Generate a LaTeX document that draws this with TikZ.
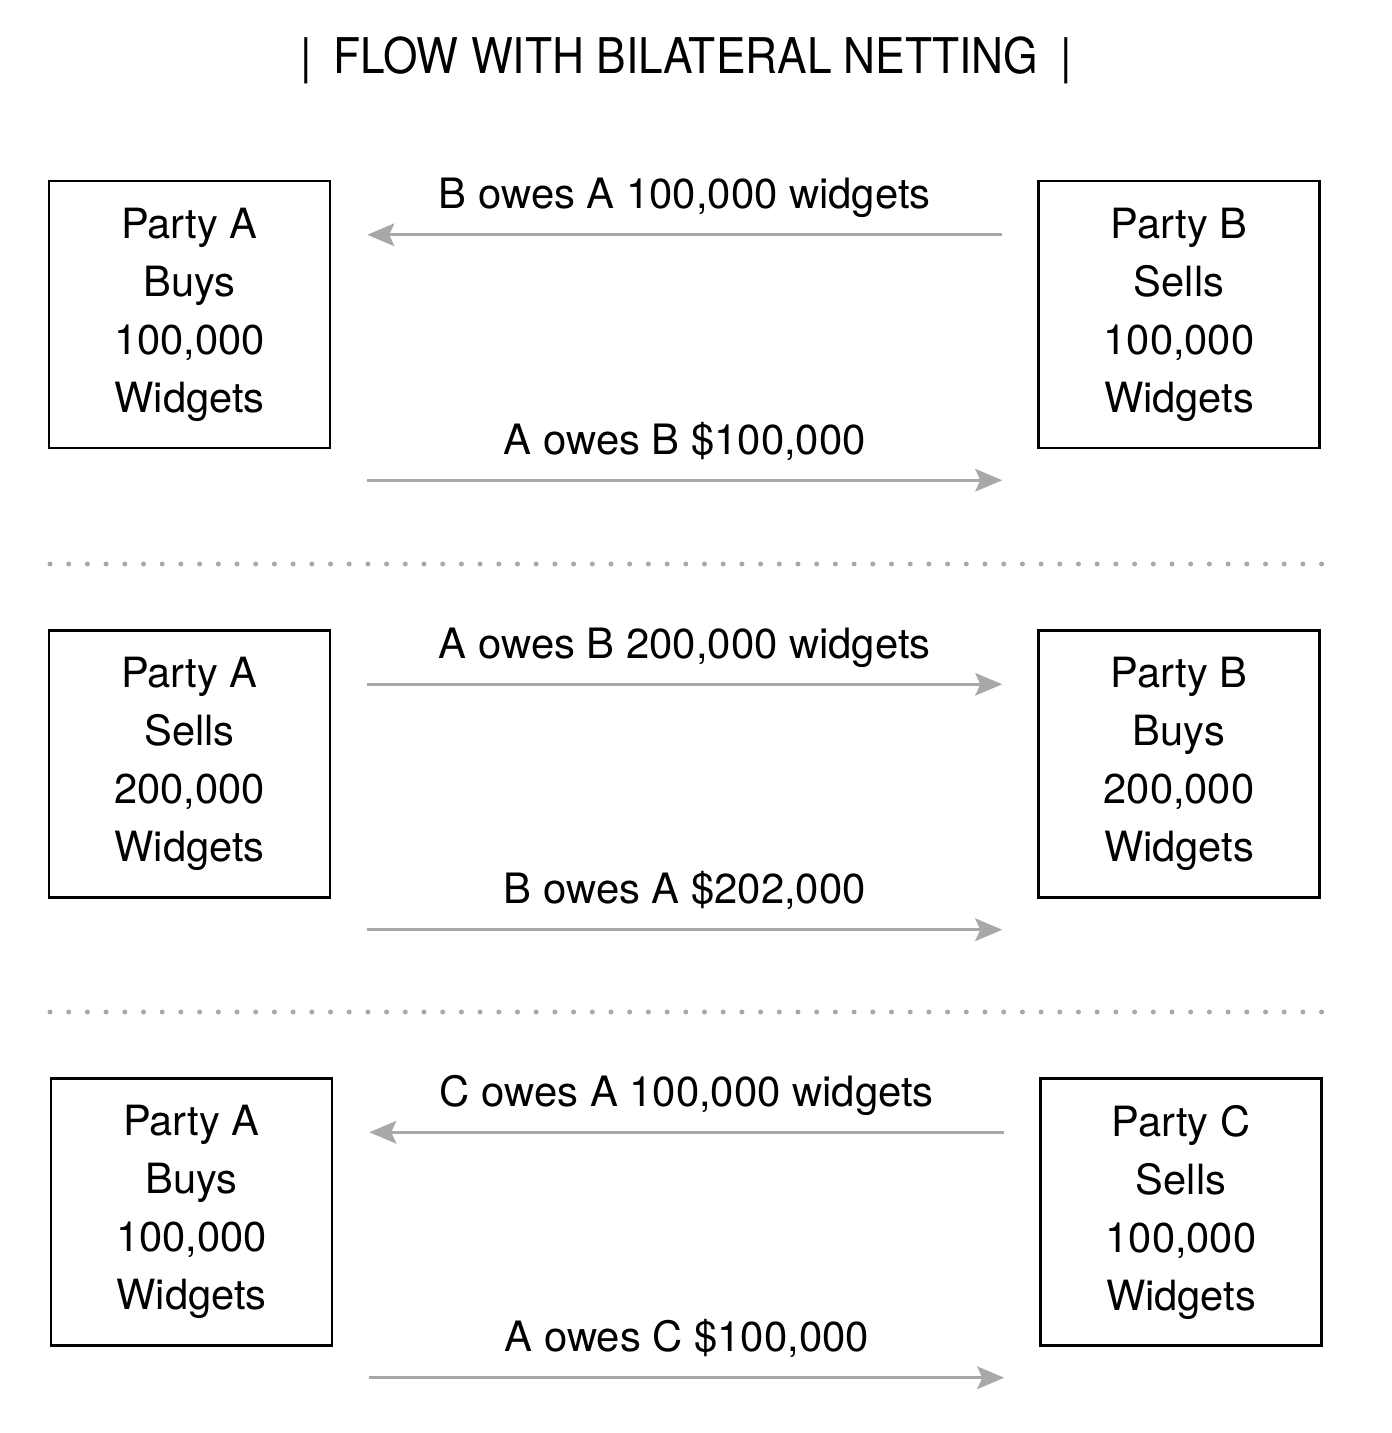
\documentclass[tikz,border=0pt]{standalone}
\usepackage{fontspec}
\setmainfont{TeX Gyre Heros}
\newfontfamily\titlefont{TeX Gyre Heros}[FakeStretch=0.9]
\usepackage{tikz}
\usetikzlibrary{positioning,arrows.meta}
\definecolor{flowgray}{HTML}{A8A8A8}

\begin{document}
\begin{tikzpicture}[
		party/.style={draw,line width=1.4pt,minimum width=5.62cm,minimum height=5.34cm,align=center,inner sep=0pt,font=\fontsize{23.7}{33}\selectfont},
		flow/.style={draw=flowgray,line width=1.8pt,-{Stealth[length=0.54cm,width=0.45cm,inset=0.1cm]}},
		owes/.style={anchor=base,yshift=0.52cm,font=\fontsize{23.8}{28}\selectfont},
		sep/.style={draw=flowgray,line width=0.1cm,line cap=round,dash pattern=on 0pt off 0.374cm}
		]
		\useasboundingbox (0,0) rectangle (27.84,-28.66);
		\node[font=\titlefont\fontsize{28}{32}\selectfont] (title) at (13.72,-1.2) {|\hspace{0.45em}FLOW WITH BILATERAL NETTING\hspace{0.45em}|};
		
		% first trade
		\node[party] (a1) at (3.79,-6.29) {Party A\\Buys\\100,000\\Widgets};
		\node[party] (b1) at (23.58,-6.29) {Party B\\Sells\\100,000\\Widgets};
		\draw[flow] ([shift={(-0.7,-1.1)}]b1.north west) -- node[owes] {B owes A 100,000 widgets} ([shift={(0.72,-1.1)}]a1.north east);
		\draw[flow] ([shift={(0.72,-0.62)}]a1.south east) -- node[owes] {A owes B \$100,000} ([shift={(-0.7,-0.62)}]b1.south west);
		
		\draw[sep] (1.0,-11.28) -- (26.44,-11.28);
		
		% second trade
		\node[party] (a2) at (3.79,-15.28) {Party A\\Sells\\200,000\\Widgets};
		\node[party] (b2) at (23.58,-15.28) {Party B\\Buys\\200,000\\Widgets};
		\draw[flow] ([shift={(0.72,-1.1)}]a2.north east) -- node[owes] {A owes B 200,000 widgets} ([shift={(-0.7,-1.1)}]b2.north west);
		\draw[flow] ([shift={(0.72,-0.62)}]a2.south east) -- node[owes] {B owes A \$202,000} ([shift={(-0.7,-0.62)}]b2.south west);
		
		\draw[sep] (1.0,-20.24) -- (26.44,-20.24);
		
		% third trade
		\node[party] (a3) at (3.83,-24.24) {Party A\\Buys\\100,000\\Widgets};
		\node[party] (c3) at (23.62,-24.24) {Party C\\Sells\\100,000\\Widgets};
		\draw[flow] ([shift={(-0.7,-1.1)}]c3.north west) -- node[owes] {C owes A 100,000 widgets} ([shift={(0.72,-1.1)}]a3.north east);
		\draw[flow] ([shift={(0.72,-0.62)}]a3.south east) -- node[owes] {A owes C \$100,000} ([shift={(-0.7,-0.62)}]c3.south west);
	\end{tikzpicture}
\end{document}
